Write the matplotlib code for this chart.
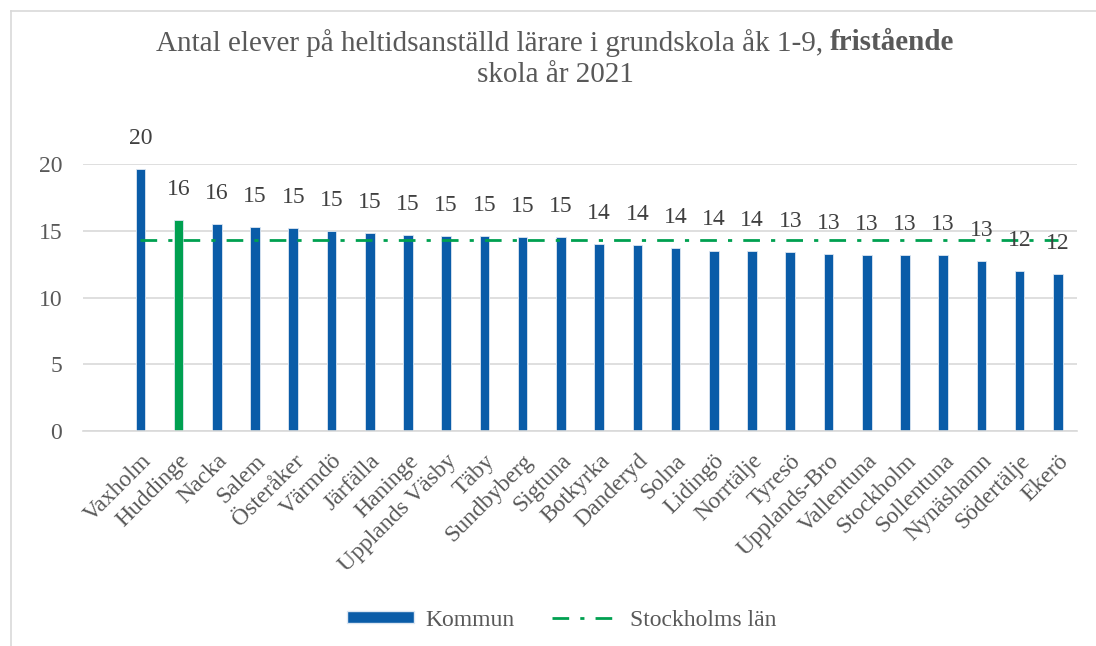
import matplotlib
matplotlib.use("Agg")
import math
import matplotlib.pyplot as plt
from matplotlib.lines import Line2D
from matplotlib.patches import Patch

# data
kommuner = ["Vaxholm", "Huddinge", "Nacka", "Salem", "Österåker", "Värmdö",
            "Järfälla", "Haninge", "Upplands Väsby", "Täby", "Sundbyberg",
            "Sigtuna", "Botkyrka", "Danderyd", "Solna", "Lidingö", "Norrtälje",
            "Tyresö", "Upplands-Bro", "Vallentuna", "Stockholm", "Sollentuna",
            "Nynäshamn", "Södertälje", "Ekerö"]
elever = [19.6, 15.8, 15.5, 15.25, 15.2, 14.95, 14.85, 14.7, 14.6, 14.58, 14.55,
          14.5, 14.0, 13.9, 13.7, 13.52, 13.5, 13.4, 13.25, 13.2, 13.2, 13.15,
          12.7, 11.95, 11.75]
lan_snitt = 14.3
markerad = "Huddinge"

blue = "#0a5ca8"
green = "#00a050"
grey_txt = "#595959"

plt.rcParams["font.family"] = ["Liberation Serif", "DejaVu Serif"]

fig = plt.figure(figsize=(10.96, 6.46), dpi=100)
ax = fig.add_axes([83 / 1096, 1 - 431 / 646, 994 / 1096, 267 / 646])

x = list(range(len(kommuner)))
colors = [green if k == markerad else blue for k in kommuner]
ax.bar(x, elever, width=0.25, color=colors, edgecolor="#dce6f2",
       linewidth=0.6, zorder=2)
ax.plot(x, [lan_snitt] * len(x), color=green, lw=2, zorder=3,
        dashes=(6, 4, 1.5, 4))

for xi, v in zip(x, elever):
    ax.annotate(str(math.floor(v + 0.5)), (xi, v), xytext=(0, 22),
                textcoords="offset points", ha="center", va="center",
                fontsize=17, color="#404040", annotation_clip=False)

ax.set_xlim(-1.5, 24.5)
ax.set_ylim(0, 20)
ax.set_yticks([0, 5, 10, 15, 20])
ax.yaxis.grid(True, color="#d9d9d9", lw=1.2, zorder=0)
ax.set_axisbelow(True)
for s in ["top", "right", "left"]:
    ax.spines[s].set_visible(False)
ax.spines["bottom"].set_color("#d9d9d9")
ax.spines["bottom"].set_linewidth(1.2)
ax.tick_params(axis="both", length=0, labelsize=17, labelcolor=grey_txt)
ax.tick_params(axis="y", pad=15)
ax.set_xticks(x)
ax.set_xticklabels(kommuner, rotation=45, ha="right", rotation_mode="anchor")
ax.tick_params(axis="x", pad=14)

# title, normal + bold part on first line
fig.canvas.draw()
r = fig.canvas.get_renderer()
t1 = fig.text(0, 0, "Antal elever på heltidsanställd lärare i grundskola åk 1-9, ",
              fontsize=21, color=grey_txt)
t2 = fig.text(0, 0, "fristående", fontsize=21, color=grey_txt, weight="bold")
w1 = t1.get_window_extent(r).width
w2 = t2.get_window_extent(r).width
start = 555 - (w1 + w2) / 2
y1 = 1 - 43 / 646
t1.set_position((start / 1096, y1))
t1.set_va("center")
t2.set_position(((start + w1) / 1096, y1))
t2.set_va("center")
fig.text(555 / 1096, 1 - 75 / 646, "skola år 2021", fontsize=21,
         color=grey_txt, ha="center", va="center")

handles = [Patch(facecolor=blue, edgecolor="#dce6f2", label="Kommun"),
           Line2D([0], [0], color=green, lw=2, dashes=(6, 4, 1.5, 4),
                  label="Stockholms län")]
leg = fig.legend(handles=handles, loc="center", bbox_to_anchor=(562 / 1096, 1 - 620 / 646),
                 ncol=2, frameon=False, fontsize=17, handlelength=2.8,
                 handleheight=0.45, handletextpad=0.5, columnspacing=1.6)
for t in leg.get_texts():
    t.set_color(grey_txt)

# chart area border (top and left visible)
fig.add_artist(Line2D([11 / 1096, 1], [1 - 11 / 646] * 2, color="#d9d9d9", lw=1.2))
fig.add_artist(Line2D([11 / 1096] * 2, [0, 1 - 11 / 646], color="#d9d9d9", lw=1.2))

fig.savefig("out.png", dpi=100, facecolor="white")
